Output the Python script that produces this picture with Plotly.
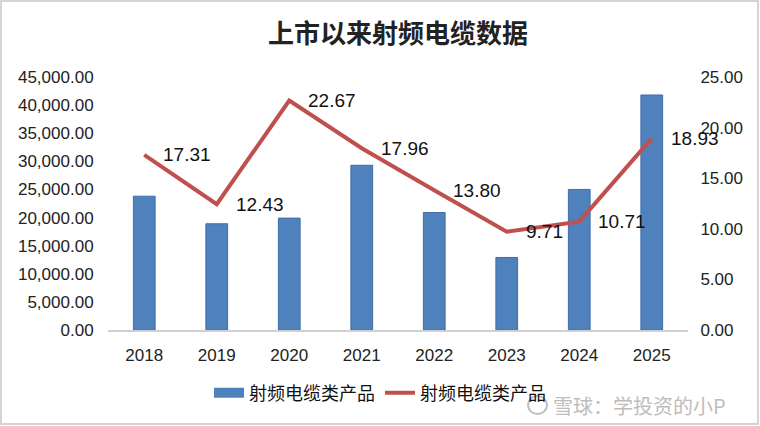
import plotly.graph_objects as go

years = ["2018", "2019", "2020", "2021", "2022", "2023", "2024", "2025"]
bar_values = [23800, 18900, 19900, 29300, 20900, 12900, 25000, 41800]
line_values = [17.31, 12.43, 22.67, 17.96, 13.80, 9.71, 10.71, 18.93]
series_name = "射频电缆类产品"
title_text = "上市以来射频电缆数据"
watermark = "雪球：学投资的小P"

W, H = 760, 426
L, R, T, B = 108, 72, 77, 96
pw, ph = W - L - R, H - T - B


def px(x):
    return (x - L) / pw


def py(y):
    return (H - B - y) / ph


BLUE = "#4f81bd"
RED = "#c0504d"
FONT = "Liberation Sans, Arial, sans-serif"
CJK = "Noto Sans CJK SC, sans-serif"

fig = go.Figure()
fig.add_trace(go.Bar(
    x=years, y=bar_values, name=series_name, yaxis="y",
    marker=dict(color=BLUE, line=dict(color="#3e6eab", width=1)),
    showlegend=False,
))
# legend proxy for bars (wide rectangle)
fig.add_trace(go.Scatter(
    x=[years[0]], y=[None], mode="lines", name=series_name, yaxis="y",
    line=dict(color=BLUE, width=11), showlegend=True, hoverinfo="skip",
))
fig.add_trace(go.Scatter(
    x=years, y=line_values, name=series_name, yaxis="y2", mode="lines",
    line=dict(color=RED, width=4), showlegend=True,
))

annotations = []
for i, v in enumerate(line_values):
    annotations.append(dict(
        x=i, y=v, xref="x", yref="y2", text=f"{v:.2f}", showarrow=False,
        xanchor="left", yanchor="middle", xshift=17,
        font=dict(family=FONT, size=19, color="#111"),
    ))
annotations.append(dict(
    x=px(551), y=py(405), xref="paper", yref="paper", text=watermark,
    showarrow=False, xanchor="left", yanchor="middle",
    font=dict(family=CJK, size=20, color="#bdbdbd"),
))

shapes = [
    dict(type="rect", xref="paper", yref="paper",
         x0=px(1), x1=px(758), y0=py(424), y1=py(1),
         line=dict(color="#d4d4d4", width=2), fillcolor="rgba(0,0,0,0)", layer="below"),
    dict(type="circle", xref="paper", yref="paper",
         x0=px(528), x1=px(547), y0=py(414), y1=py(396),
         line=dict(color="#bdbdbd", width=2), fillcolor="rgba(0,0,0,0)"),
]

fig.update_layout(
    width=W, height=H,
    margin=dict(l=L, r=R, t=T, b=B),
    paper_bgcolor="white", plot_bgcolor="white",
    title=dict(text=title_text, x=0.5, xref="paper", y=1 - 34 / H, yanchor="middle",
               font=dict(family=CJK, size=26, color="#222", weight="bold")),
    xaxis=dict(
        type="category", categoryorder="array", categoryarray=years,
        range=[-0.5, len(years) - 0.5],
        showline=True, linecolor="#d0d0d0", linewidth=2,
        showgrid=False, ticks="outside", ticklen=9, tickcolor="rgba(0,0,0,0)",
        tickfont=dict(family=FONT, size=17, color="#222"),
    ),
    yaxis=dict(
        range=[0, 45000], dtick=5000, tickformat=",.2f", showgrid=False,
        zeroline=False, showline=False, ticks="outside", ticklen=10,
        tickcolor="rgba(0,0,0,0)",
        tickfont=dict(family=FONT, size=17, color="#222"),
    ),
    yaxis2=dict(
        range=[0, 25], dtick=5, tickformat=".2f", overlaying="y", side="right",
        showgrid=False, zeroline=False, showline=False, ticks="outside",
        ticklen=8, tickcolor="rgba(0,0,0,0)",
        tickfont=dict(family=FONT, size=17, color="#222"),
    ),
    legend=dict(
        orientation="h", x=px(380), xanchor="center", y=py(393), yanchor="middle",
        font=dict(family=CJK, size=18, color="#111"),
        itemwidth=30, bgcolor="rgba(0,0,0,0)",
    ),
    annotations=annotations,
    shapes=shapes,
    bargap=0.7,
)

fig.write_html("out.html")
